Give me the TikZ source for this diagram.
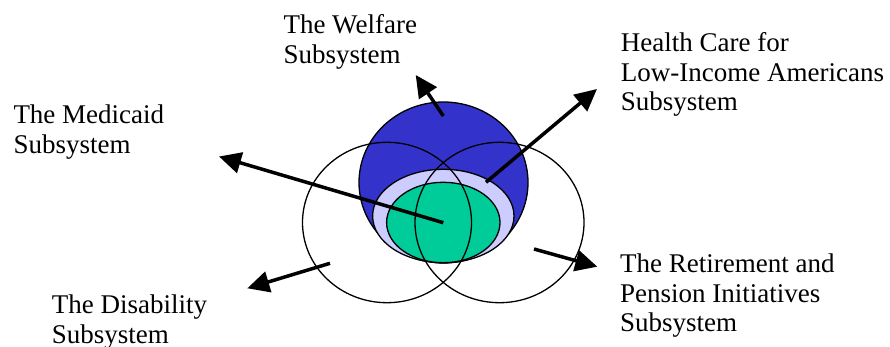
\documentclass[tikz,border=0pt]{standalone}
\usepackage{fontspec}
\setmainfont{Liberation Serif}
\usetikzlibrary{arrows.meta}
\definecolor{welfblue}{HTML}{3333CC}
\definecolor{lavender}{HTML}{CCCCFF}
\definecolor{medgreen}{HTML}{00CC99}
\begin{document}
\begin{tikzpicture}[x=1pt,y=-1pt,
  lbl/.style={anchor=base west,align=left,inner sep=0pt,font=\fontsize{27}{29.5}\selectfont},
  bigarrow/.style={line width=3.5pt,-{Triangle[length=22pt,width=21pt]}}]
\useasboundingbox (0,0) rectangle (890,347);
% shapes
\fill[welfblue,draw=black,line width=1.3pt] (443.5,182.5) ellipse [x radius=84.5,y radius=80.5];
\fill[lavender,draw=black,line width=1.3pt] (443.3,216) ellipse [x radius=70.7,y radius=46.7];
\fill[medgreen,draw=black,line width=1.3pt] (443.3,222.5) ellipse [x radius=56.7,y radius=40.2];
\draw[line width=1.3pt] (387,222.5) ellipse [x radius=84.5,y radius=80.2];
\draw[line width=1.3pt] (499.5,222.5) ellipse [x radius=84.5,y radius=80.2];
% arrow anchors
\coordinate (wS) at (443.3,116);
\coordinate (wT) at (415.7,75);
\coordinate (hS) at (486,182.3);
\coordinate (hT) at (597,89);
\coordinate (mS) at (443.3,222.7);
\coordinate (mT) at (219,156.5);
\coordinate (dS) at (330,263.3);
\coordinate (dT) at (247.3,288.3);
\coordinate (rS) at (534,249);
\coordinate (rT) at (597.3,266.7);
\draw[bigarrow] (wS) -- (wT);
\draw[bigarrow] (hS) -- (hT);
\draw[bigarrow] (mS) -- (mT);
\draw[bigarrow] (dS) -- (dT);
\draw[bigarrow] (rS) -- (rT);
% labels (anchor = baseline of last line)
\node[lbl] (welfare) at (283.3,63.3) {The Welfare\\Subsystem};
\node[lbl] (health) at (620.7,110.7) {Health Care for\\Low-Income Americans\\Subsystem};
\node[lbl] (medicaid) at (13.3,153.3) {The Medicaid\\Subsystem};
\node[lbl] (disability) at (51.7,343) {The Disability\\Subsystem};
\node[lbl] (retire) at (620,331.7) {The Retirement and\\Pension Initiatives\\Subsystem};
\end{tikzpicture}
\end{document}
